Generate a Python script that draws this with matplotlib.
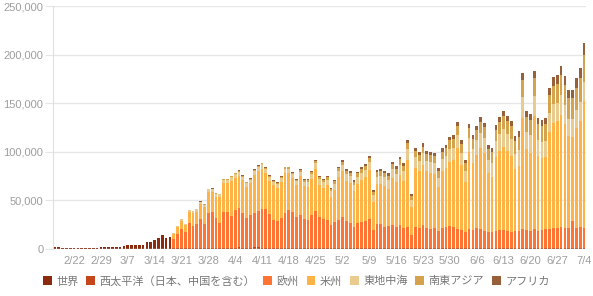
import numpy as np
import pandas as pd
import matplotlib
matplotlib.use("Agg")
import matplotlib.pyplot as plt
from matplotlib.patches import Patch

plt.rcParams['font.family'] = ['Liberation Sans', 'Noto Sans CJK JP', 'DejaVu Sans']

# ---- data (thousands of cases per day) ----
start_date = "2020-02-17"
end_date = "2020-07-04"

# 世界 (global total, before regional breakdown) 2/17 - 3/18
world_early = [2.05, 1.89, 0.6, 1.0, 1.02, 1.03, 1.02, 0.52, 0.91, 0.87,
               1.19, 1.36, 1.75, 1.74, 1.81, 1.92, 2.22, 2.24, 2.87, 3.74,
               3.63, 3.99, 4.13, 4.62, 6.73, 7.49, 9.75, 10.98, 13.9, 11.5, 12.0]

# regional series 3/19 - 7/4
wpro = [0.8, 0.9, 1.0, 0.8, 1.0, 1.0, 1.0, 1.2, 1.1, 1.2, 1.2, 1.1, 1.2,
        1.2, 1.3, 1.4, 1.5, 1.6, 1.5, 1.4, 1.5, 1.6, 1.6, 1.5, 1.5, 1.4, 1.3, 1.3,
        1.4, 1.4, 1.3, 1.2, 1.2, 1.1, 1.1, 1.1, 1.1, 1.1, 1.0, 1.0, 1.0, 1.0, 1.0,
        1.1, 1.1, 1.0, 1.0, 1.0, 1.0, 1.1, 1.0, 1.0, 0.9, 1.0, 1.0, 1.0, 1.1, 1.1,
        1.0, 1.0, 1.0, 1.0, 0.9, 1.0, 1.0, 1.0, 0.9, 0.9, 0.9, 0.8, 0.9, 0.9, 0.9, 0.9,
        0.9, 0.9, 0.8, 0.9, 0.9, 0.8, 0.8, 0.8, 0.8, 0.8, 0.8, 0.9, 0.9, 0.9, 0.9,
        0.9, 0.9, 1.0, 1.0, 1.0, 1.0, 1.0, 1.1, 1.1, 1.2, 1.2, 1.2, 1.3, 1.3, 1.3,
        1.4, 1.4, 1.5, 1.5]
euro = [10, 15, 20, 17, 26, 23, 25, 30, 25, 36, 37, 31, 26,
        37, 37, 33, 39, 41, 36, 31, 33, 35, 38, 40, 40, 35, 29, 28,
        30, 36, 39, 37, 32, 34, 30, 29, 34, 38, 32, 30, 29, 24, 27,
        29, 32, 28, 26, 22, 26, 27, 28, 30, 19, 25, 25, 22, 23, 24,
        22, 24, 21, 22, 13, 22, 21, 24, 21, 20, 21, 18, 21, 22, 23, 22,
        20, 19, 17, 20, 19, 21, 20, 18, 17, 17, 18, 19, 19, 18, 17,
        18, 18, 20, 19, 18, 20, 18, 18, 19, 19, 20, 20, 21, 20, 20,
        27, 20, 21, 20]
amro = [4.4, 6.4, 8.0, 6.4, 10.7, 13.0, 12.3, 14.8, 16.9, 21.4, 20.6, 21.7, 25.8,
        29.4, 29.3, 35.9, 32.9, 33.0, 33.2, 31.6, 33.0, 39.7, 40.4, 41.2, 36.5, 33.7, 35.3, 33.9,
        37.4, 40.5, 37.4, 34.5, 32.4, 39.6, 33.4, 34.0, 37.0, 43.5, 33.3, 32.0, 35.7, 29.0, 33.2,
        44.0, 46.8, 41.4, 41.4, 36.3, 40.3, 42.6, 44.8, 49.8, 28.4, 40.5, 41.1, 42.1, 37.9, 47.6,
        45.5, 51.6, 48.4, 69.0, 29.1, 60.2, 58.0, 61.9, 57.9, 57.7, 54.9, 44.9, 58.4, 60.0, 65.7, 68.4,
        82.7, 66.1, 51.2, 78.7, 68.8, 75.1, 82.7, 79.9, 60.2, 56.7, 75.8, 81.2, 85.5, 82.0, 77.8,
        63.8, 66.5, 114.2, 82.8, 79.9, 115.5, 76.5, 74.1, 74.1, 100.3, 108.4, 110.0, 115.8, 107.7, 94.9,
        87.0, 102.7, 109.0, 130.5]
emro = [1.2, 1.5, 1.8, 1.6, 2.0, 2.2, 2.4, 2.6, 2.5, 2.8, 3.0, 3.0, 3.2,
        3.5, 3.4, 3.6, 3.8, 4.0, 3.8, 3.6, 3.7, 4.0, 4.2, 4.3, 4.0, 3.8, 3.6, 3.8,
        4.0, 4.4, 4.5, 4.3, 4.0, 4.6, 4.8, 5.0, 5.4, 6.0, 5.5, 5.6, 5.8, 5.5, 6.0,
        6.5, 7.0, 6.8, 6.5, 6.8, 7.0, 7.5, 7.8, 8.5, 7.0, 8.0, 8.2, 8.5, 8.8, 9.5,
        9.0, 10.0, 9.5, 11.0, 7.0, 11.0, 10.5, 11.5, 11.0, 11.0, 11.5, 9.5, 12.0, 12.5, 13.5, 13.0,
        14.0, 13.0, 11.0, 14.5, 14.0, 15.0, 16.0, 15.5, 14.0, 14.0, 16.0, 17.0, 18.0, 17.5, 17.0,
        15.0, 16.0, 21.0, 18.0, 18.0, 21.0, 17.0, 17.0, 17.0, 19.0, 19.5, 19.0, 20.0, 19.0, 18.0,
        18.0, 19.0, 19.5, 19.5]
searo = [0.05, 0.1, 0.1, 0.15, 0.15, 0.2, 0.2, 0.25, 0.3, 0.35, 0.4, 0.45, 0.5,
         0.5, 0.6, 0.7, 0.8, 0.9, 1.0, 0.9, 1.0, 1.1, 1.2, 1.3, 1.4, 1.3, 1.2, 1.3,
         1.5, 1.6, 1.7, 1.7, 1.6, 1.8, 1.8, 1.9, 2.0, 2.2, 2.1, 2.2, 2.3, 2.2, 2.4,
         2.6, 3.0, 3.2, 3.4, 3.3, 3.4, 3.8, 3.9, 4.2, 3.6, 4.3, 4.5, 4.6, 4.8, 5.2,
         5.0, 5.6, 5.5, 6.0, 5.0, 6.4, 6.5, 7.0, 7.0, 7.2, 7.4, 7.0, 7.8, 8.0, 8.6, 8.8,
         9.2, 9.0, 8.5, 10.0, 10.0, 10.5, 11.0, 11.0, 10.5, 11.0, 12.0, 12.5, 13.0, 13.0, 13.5,
         13.0, 14.0, 17.5, 15.0, 15.5, 18.0, 16.0, 16.0, 17.0, 18.5, 19.0, 20.0, 21.0, 21.0, 21.0,
         21.5, 23.0, 24.5, 28.0]
afro = [0.05, 0.08, 0.1, 0.1, 0.15, 0.15, 0.15, 0.2, 0.2, 0.25, 0.3, 0.3, 0.35,
        0.4, 0.4, 0.45, 0.5, 0.5, 0.5, 0.5, 0.55, 0.6, 0.6, 0.65, 0.6, 0.6, 0.6, 0.65,
        0.7, 0.8, 0.8, 0.8, 0.8, 0.9, 0.9, 1.0, 1.0, 1.2, 1.1, 1.2, 1.2, 1.3, 1.4,
        1.5, 1.6, 1.6, 1.7, 1.6, 1.8, 2.0, 2.0, 2.2, 1.8, 2.2, 2.2, 2.3, 2.4, 2.6,
        2.5, 2.8, 2.6, 3.0, 2.0, 3.0, 3.0, 3.3, 3.2, 3.2, 3.3, 2.8, 3.5, 3.6, 3.8, 3.9,
        4.2, 4.0, 3.5, 4.5, 4.3, 4.6, 5.0, 4.8, 4.5, 4.5, 5.0, 5.4, 5.6, 5.6, 5.5,
        5.3, 5.6, 7.0, 6.2, 6.2, 7.5, 6.5, 6.5, 6.8, 8.0, 8.5, 8.8, 9.5, 9.0, 8.5,
        8.8, 9.5, 10.5, 12.5]

series_names = ["世界", "西太平洋（日本、中国を含む）", "欧州", "米州", "東地中海", "南東アジア", "アフリカ"]
colors = ["#8B2A0E", "#C4461A", "#FF7433", "#FFB347", "#E9CB8F", "#D5A24D", "#97603A"]

tick_labels = ["2/22", "2/29", "3/7", "3/14", "3/21", "3/28", "4/4", "4/11", "4/18", "4/25",
               "5/2", "5/9", "5/16", "5/23", "5/30", "6/6", "6/13", "6/20", "6/27", "7/4"]

# ---- assemble ----
dates = pd.date_range(start_date, end_date, freq="D")
n = len(dates)
n_early = len(world_early)
pad = [0.0] * (n - n_early)
zero_early = [0.0] * n_early
stack = [world_early + pad] + [zero_early + s for s in (wpro, euro, amro, emro, searo, afro)]
stack = [np.array(s) * 1000 for s in stack]

x = np.arange(n)
tick_pos = [i for i, d in enumerate(dates) if f"{d.month}/{d.day}" in tick_labels]

fig = plt.figure(figsize=(5.93, 2.96), dpi=100)
ax = fig.add_axes([53/593, 1 - 249/296, (586-53)/593, (249-6)/296])

bottom = np.zeros(n)
for vals, c, name in zip(stack, colors, series_names):
    ax.bar(x, vals, bottom=bottom, width=0.72, color=c, linewidth=0, label=name, zorder=3)
    bottom += vals

ax.set_xlim(-0.5, n - 0.5)
ax.set_ylim(0, 250000)
ax.set_yticks(np.arange(0, 250001, 50000))
ax.yaxis.set_major_formatter(matplotlib.ticker.FuncFormatter(lambda v, p: f"{int(v):,}"))
ax.set_xticks(tick_pos)
ax.set_xticklabels(tick_labels)

ax.grid(axis='y', color='#e6e6e6', linewidth=1, zorder=0)
for s in ['top', 'right', 'bottom']:
    ax.spines[s].set_visible(False)
ax.spines['left'].set_color('#e0e0e0')
ax.axhline(0, color='#d0d0d0', linewidth=1, zorder=4)
ax.tick_params(axis='y', length=6, color='#e6e6e6', pad=1, labelsize=8, labelcolor='#9e9e9e')
ax.tick_params(axis='x', length=0, pad=5, labelsize=8, labelcolor='#9e9e9e')

handles = [Patch(facecolor=c, edgecolor='none') for c in colors]
fig.legend(handles, series_names, loc='center', bbox_to_anchor=(0.5, 1 - 281/296), ncol=7,
           frameon=False, fontsize=8, handlelength=0.8, handleheight=0.8, handletextpad=0.4,
           columnspacing=0.7, labelcolor='#777777', borderaxespad=0, borderpad=0)

fig.savefig("out.png", dpi=100)
